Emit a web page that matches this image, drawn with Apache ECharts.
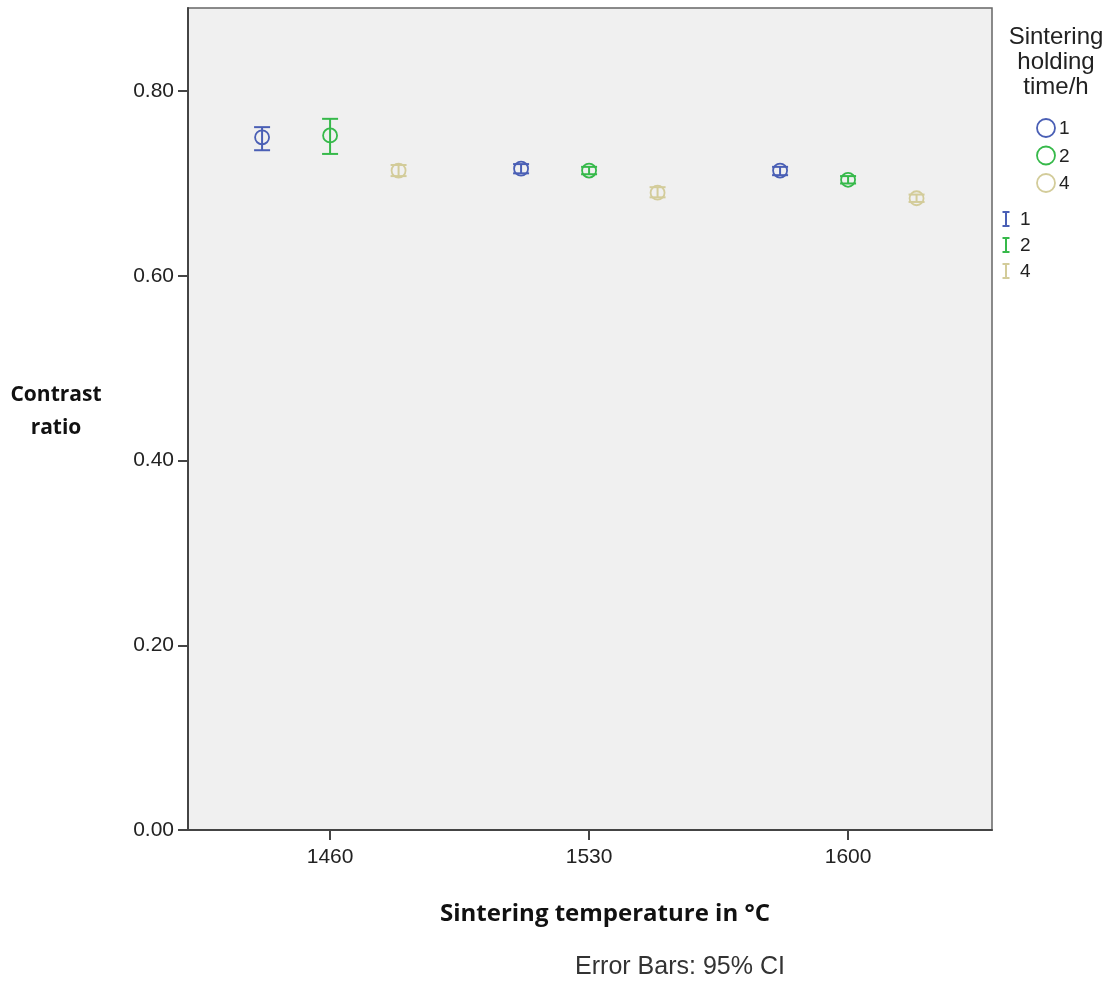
<!DOCTYPE html>
<html><head><meta charset="utf-8">
<script src="https://cdn.jsdelivr.net/npm/echarts@6/dist/echarts.min.js"></script>
<style>html,body{margin:0;padding:0;background:#fff}#c{width:1111px;height:981px}</style>
</head><body><div id="c"></div>
<script>
const temperatures = [1460, 1530, 1600];
const holdingTimes = ['1', '2', '4'];
const colors = ['#4a5fb5', '#36b94a', '#d3cc9a'];
// means and 95% CI [lower, upper] for each holding time, per temperature
const mean1 = [0.750, 0.716, 0.714];
const lo1   = [0.736, 0.711, 0.709];
const hi1   = [0.761, 0.721, 0.718];
const mean2 = [0.752, 0.714, 0.704];
const lo2   = [0.732, 0.710, 0.700];
const hi2   = [0.770, 0.718, 0.708];
const mean4 = [0.714, 0.690, 0.684];
const lo4   = [0.708, 0.685, 0.680];
const hi4   = [0.720, 0.696, 0.688];
const yTicks = [0, 0.2, 0.4, 0.6, 0.8];

const means = [mean1, mean2, mean4];
const los = [lo1, lo2, lo4];
const his = [hi1, hi2, hi4];

const clusterOffsetPx = [-68, 0, 68.5];
const SANS = '"Liberation Sans", Arial, sans-serif';
const BOLD = '"Open Sans", sans-serif';

const series = holdingTimes.map((h, si) => ({
  type: 'custom',
  name: h,
  data: temperatures.map((t, i) => [t, means[si][i], los[si][i], his[si][i]]),
  renderItem: function (params, api) {
    const dx = clusterOffsetPx[si];
    const c = api.coord([api.value(0), api.value(1)]);
    const lo = api.coord([api.value(0), api.value(2)]);
    const hi = api.coord([api.value(0), api.value(3)]);
    const x = c[0] + dx;
    const capW = 8;
    const st = {stroke: colors[si], lineWidth: 2, fill: null};
    return {
      type: 'group',
      children: [
        {type: 'line', shape: {x1: x, y1: hi[1], x2: x, y2: lo[1]}, style: st},
        {type: 'line', shape: {x1: x - capW, y1: hi[1], x2: x + capW, y2: hi[1]}, style: st},
        {type: 'line', shape: {x1: x - capW, y1: lo[1], x2: x + capW, y2: lo[1]}, style: st},
        {type: 'circle', shape: {cx: x, cy: c[1], r: 7}, style: {stroke: colors[si], lineWidth: 1.8, fill: null}}
      ]
    };
  }
}));

const graphics = [];
['Sintering', 'holding', 'time/h'].forEach((s, i) => {
  graphics.push({type: 'text', x: 1056, y: 37 + i * 25,
    style: {text: s, font: '24px ' + SANS, fill: '#222', textAlign: 'center', textVerticalAlign: 'middle'}});
});
holdingTimes.forEach((h, i) => {
  const y = 128 + i * 27.5;
  graphics.push({type: 'circle', shape: {cx: 1046, cy: y, r: 9}, style: {stroke: colors[i], lineWidth: 1.8, fill: null}});
  graphics.push({type: 'text', x: 1059, y: y + 1, style: {text: h, font: '19px ' + SANS, fill: '#222', textVerticalAlign: 'middle'}});
});
holdingTimes.forEach((h, i) => {
  const y = 219 + i * 26;
  const st = {stroke: colors[i], lineWidth: 2};
  graphics.push({type: 'line', shape: {x1: 1006, y1: y - 7, x2: 1006, y2: y + 7}, style: st});
  graphics.push({type: 'line', shape: {x1: 1002.5, y1: y - 7, x2: 1009.5, y2: y - 7}, style: st});
  graphics.push({type: 'line', shape: {x1: 1002.5, y1: y + 7, x2: 1009.5, y2: y + 7}, style: st});
  graphics.push({type: 'text', x: 1020, y: y + 1, style: {text: h, font: '19px ' + SANS, fill: '#222', textVerticalAlign: 'middle'}});
});
graphics.push({type: 'text', x: 56, y: 395, style: {text: 'Contrast', font: 'bold 21px ' + BOLD, fill: '#111', textAlign: 'center', textVerticalAlign: 'middle'}});
graphics.push({type: 'text', x: 56, y: 428, style: {text: 'ratio', font: 'bold 21px ' + BOLD, fill: '#111', textAlign: 'center', textVerticalAlign: 'middle'}});
graphics.push({type: 'text', x: 605, y: 914, style: {text: 'Sintering temperature in °C', font: 'bold 24px ' + BOLD, fill: '#111', textAlign: 'center', textVerticalAlign: 'middle'}});
graphics.push({type: 'text', x: 680, y: 967, style: {text: 'Error Bars: 95% CI', font: '25px ' + SANS, fill: '#333', textAlign: 'center', textVerticalAlign: 'middle'}});

const chart = echarts.init(document.getElementById('c'), null, {renderer: 'canvas'});
chart.setOption({
  animation: false,
  backgroundColor: '#ffffff',
  grid: {left: 188, right: 119, top: 8, bottom: 151, show: true, backgroundColor: '#f0f0f0', borderColor: '#666', borderWidth: 1.5},
  xAxis: {
    type: 'value', min: 1421.6, max: 1638.9,
    axisLine: {show: true, onZero: false, lineStyle: {color: '#444', width: 2}},
    axisTick: {show: true, length: 10, customValues: temperatures, lineStyle: {color: '#444', width: 2}},
    axisLabel: {customValues: temperatures, margin: 17, fontSize: 21, color: '#222', fontFamily: SANS,
      formatter: v => String(v)},
    splitLine: {show: false}
  },
  yAxis: {
    type: 'value', min: 0, max: 0.89,
    axisLine: {show: true, lineStyle: {color: '#444', width: 2}},
    axisTick: {show: true, length: 10, customValues: yTicks, lineStyle: {color: '#444', width: 2}},
    axisLabel: {customValues: yTicks, margin: 14, fontSize: 21, color: '#222', fontFamily: SANS,
      formatter: v => v.toFixed(2)},
    splitLine: {show: false}
  },
  graphic: graphics,
  series: series
});
</script></body></html>
